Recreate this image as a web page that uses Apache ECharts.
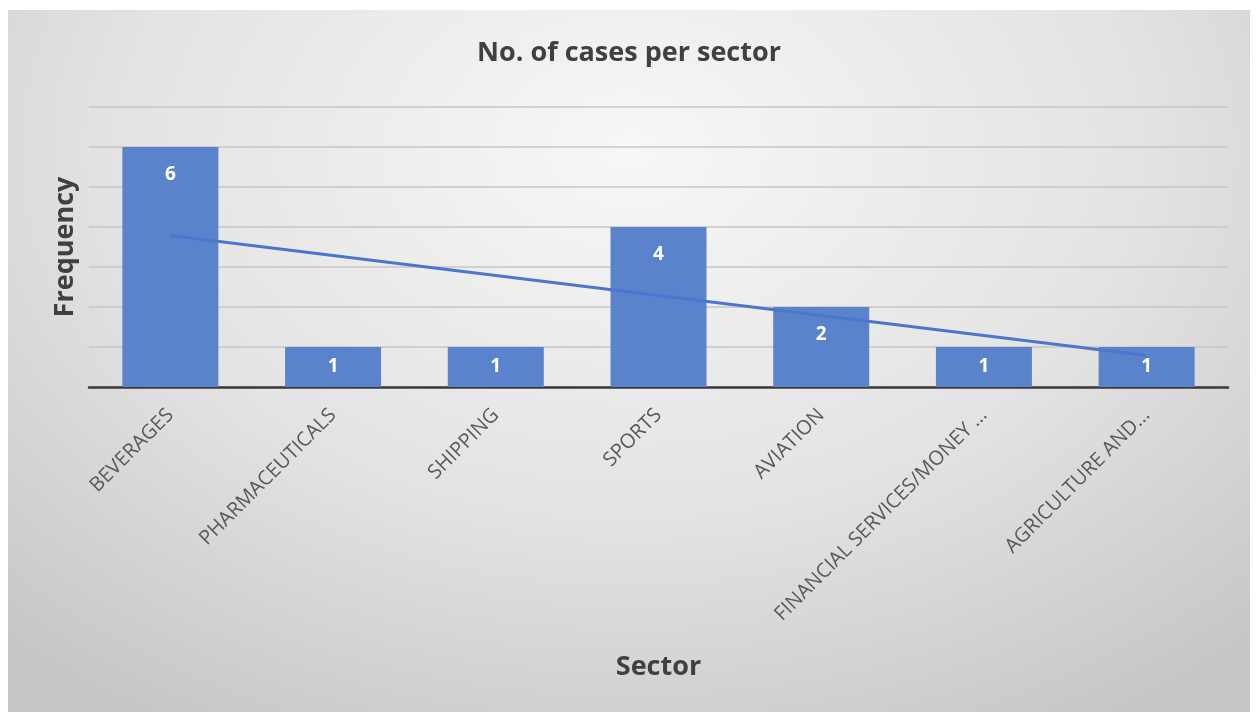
<!DOCTYPE html>
<html>
<head>
<meta charset="utf-8">
<script src="https://cdn.jsdelivr.net/npm/echarts@6/dist/echarts.min.js"></script>
<style>
  html, body { margin: 0; padding: 0; background: #ffffff; }
  #frame {
    position: absolute; left: 8px; top: 10px; width: 1242px; height: 702px;
    background: radial-gradient(ellipse 75% 95% at 50% 20%, #f7f7f7 0%, #e3e3e3 55%, #c6c6c6 100%);
  }
  #chart { position: absolute; left: 0; top: 0; width: 1258px; height: 712px; }
</style>
</head>
<body>
<div id="frame"></div>
<div id="chart"></div>
<script>
const sectors = ["BEVERAGES", "PHARMACEUTICALS", "SHIPPING", "SPORTS", "AVIATION", "FINANCIAL SERVICES/MONEY ...", "AGRICULTURE AND..."];
const cases = [6, 1, 1, 4, 2, 1, 1];
// linear trendline at its two ends
const trend = [3.79, null, null, null, null, null, 0.79];

const chart = echarts.init(document.getElementById('chart'));

const barData = cases.map(v => ({
  value: v,
  label: v > 1 ? {position: 'insideTop', distance: 18} : {position: 'inside'}
}));

const option = {
  backgroundColor: 'transparent',
  animation: false,
  title: {
    text: 'No. of cases per sector',
    left: 'center',
    top: 35,
    textStyle: {fontFamily: 'Open Sans', fontSize: 27, fontWeight: 'bold', color: '#404040'}
  },
  grid: {left: 89, right: 30, top: 107, bottom: 325},
  xAxis: {
    type: 'category',
    data: sectors,
    name: 'Sector',
    nameLocation: 'middle',
    nameGap: 267,
    nameTextStyle: {fontFamily: 'Open Sans', fontSize: 27, fontWeight: 'bold', color: '#404040'},
    axisLine: {lineStyle: {color: '#3a3a3a', width: 2.5}},
    axisTick: {show: false},
    axisLabel: {
      interval: 0,
      rotate: 45,
      margin: 25,
      fontFamily: 'Open Sans',
      fontSize: 20,
      color: '#595959'
    }
  },
  yAxis: {
    type: 'value',
    min: 0,
    max: 7,
    interval: 1,
    name: 'Frequency',
    nameLocation: 'middle',
    nameGap: 10,
    nameTextStyle: {fontFamily: 'Open Sans', fontSize: 27, fontWeight: 'bold', color: '#404040'},
    axisLine: {show: false},
    axisTick: {show: false},
    axisLabel: {show: false},
    splitLine: {lineStyle: {color: '#c6c6c6', width: 1.5}}
  },
  series: [
    {
      name: 'Cases',
      type: 'bar',
      data: barData,
      barCategoryGap: '41%',
      itemStyle: {color: '#5a83cb'},
      label: {
        show: true,
        color: '#ffffff',
        fontFamily: 'Open Sans',
        fontWeight: 'bold',
        fontSize: 19
      }
    },
    {
      name: 'Linear (Cases)',
      type: 'line',
      data: trend,
      connectNulls: true,
      showSymbol: false,
      symbol: 'none',
      lineStyle: {color: '#4a76d0', width: 3},
      z: 3
    }
  ]
};

chart.setOption(option);
</script>
</body>
</html>
